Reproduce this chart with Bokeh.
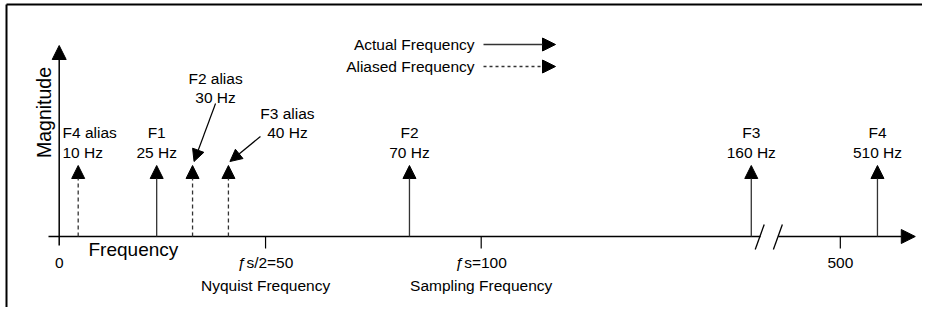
from bokeh.plotting import figure
from bokeh.models import Range1d, Arrow, NormalHead, ColumnDataSource
from bokeh.core.properties import value
from bokeh.embed import file_html
from bokeh.resources import INLINE
import math

# ---------------- data (diagram positions) -------------
signal_names = ["F1", "F2", "F3", "F4"]
signal_hz = [25, 70, 160, 510]
signal_pos = [23.1, 83.0, 164.0, 193.9]          # drawn position on the axis

alias_names = ["F4 alias", "F2 alias", "F3 alias"]
alias_hz = [10, 30, 40]
alias_pos = [4.5, 31.6, 40.1]

magnitude = 1.0

tick_pos = [0, 48.9, 100, 185.1]
tick_labels = ["0", "\u0192s/2=50", "\u0192s=100", "500"]
tick_names = ["", "Nyquist Frequency", "Sampling Frequency", ""]

break_pos = 168.2          # axis break (between 100 and 500)
legend_labels = ["Actual Frequency", "Aliased Frequency"]

# ---------------- figure ------------------------------------------------------
W, H = 922, 307
# axis units: 1 frequency unit = 4.22 px, 1 magnitude unit = 71 px
SX, SY = 4.22, 71.0
x_start = -58.7 / SX
y_start = -71.0 / SY
p = figure(width=W, height=H, output_backend="svg", toolbar_location=None,
           x_range=Range1d(x_start, x_start + W / SX),
           y_range=Range1d(y_start, y_start + H / SY),
           min_border=0, outline_line_color=None)
p.axis.visible = False
p.grid.visible = False
p.background_fill_color = "white"
p.border_fill_color = "white"

FONT = value("Liberation Sans")
LBL = "15.5px"
dx = 1.0 / SX
dy = 1.0 / SY

# frame border (top and left)
xe = p.x_range.end
top = 232 * dy
left = -52.7 * dx
p.line([left, xe], [top, top], line_color="black", line_width=2)
p.line([left, left], [y_start, top], line_color="black", line_width=2)

# horizontal axis with break
gap_l = break_pos - 2.0
gap_r = break_pos + 2.2
p.line([-10.7 * dx, gap_l], [0, 0], line_color="black", line_width=1.5)
p.add_layout(Arrow(end=NormalHead(size=14, fill_color="black", line_color="black"),
                   x_start=gap_r, y_start=0, x_end=gap_r + 137 * dx, y_end=0,
                   line_color="black", line_width=1.5))
for off in (-2.2, 2.1):
    c = break_pos + off
    p.line([c - 4.5 * dx, c + 4.5 * dx], [-13 * dy, 12 * dy], line_color="black", line_width=1.3)

# vertical axis
p.add_layout(Arrow(end=NormalHead(size=14, fill_color="black", line_color="black"),
                   x_start=0, y_start=-9 * dy, x_end=0, y_end=191 * dy,
                   line_color="black", line_width=1.5))

# ticks and labels
p.segment(x0=tick_pos[1:], y0=[0] * 3, x1=tick_pos[1:], y1=[-12 * dy] * 3,
          line_color="black", line_width=1.2)
p.text(x=tick_pos, y=[-26 * dy] * 4, text=tick_labels, text_align="center",
       text_baseline="middle", text_font=FONT, text_font_size=LBL, text_color="black")
p.text(x=tick_pos, y=[-49 * dy] * 4, text=tick_names, text_align="center",
       text_baseline="middle", text_font=FONT, text_font_size=LBL, text_color="black")

p.text(x=[29.3 * dx], y=[-13 * dy], text=["Frequency"], text_align="left",
       text_baseline="middle", text_font=FONT, text_font_size="19px")
p.text(x=[-15.7 * dx], y=[124 * dy], text=["Magnitude"], text_align="center",
       text_baseline="middle", angle=math.pi / 2, text_font=FONT, text_font_size="19.5px")

# spectral lines
head = lambda: NormalHead(size=13, fill_color="black", line_color="black")
sig_src = ColumnDataSource(dict(x=signal_pos, y0=[0] * 4, y1=[magnitude] * 4))
p.add_layout(Arrow(end=head(), x_start="x", y_start="y0", x_end="x", y_end="y1",
                   source=sig_src, line_color="#333333", line_width=1.3))
ali_src = ColumnDataSource(dict(x=alias_pos, y0=[0] * 3, y1=[magnitude] * 3))
p.add_layout(Arrow(end=head(), x_start="x", y_start="y0", x_end="x", y_end="y1",
                   source=ali_src, line_color="#333333", line_width=1.3, line_dash="4 3"))

# signal labels
row1 = magnitude + 33 * dy
row2 = magnitude + 13 * dy
p.text(x=signal_pos, y=[row1] * 4, text=signal_names, text_align="center",
       text_baseline="middle", text_font=FONT, text_font_size=LBL)
p.text(x=signal_pos, y=[row2] * 4, text=[f"{h} Hz" for h in signal_hz], text_align="center",
       text_baseline="middle", text_font=FONT, text_font_size=LBL)

# alias labels: F4 alias (left aligned), F2 alias / F3 alias with pointers
p.text(x=[alias_pos[0] - 15.7 * dx] * 2, y=[row1, row2],
       text=[alias_names[0], f"{alias_hz[0]} Hz"], text_align="left",
       text_baseline="middle", text_font=FONT, text_font_size=LBL)

lab_off_x = [0, 23 * dx, 59 * dx]
lab_row1 = [0, magnitude + 87 * dy, magnitude + 52 * dy]
for i in (1, 2):
    lx = alias_pos[i] + lab_off_x[i]
    p.text(x=[lx, lx], y=[lab_row1[i], lab_row1[i] - 19 * dy],
           text=[alias_names[i], f"{alias_hz[i]} Hz"], text_align="center",
           text_baseline="middle", text_font=FONT, text_font_size=LBL)

ptr_start = [(0, 0), (23 * dx, magnitude + 62 * dy), (32 * dx, magnitude + 29 * dy)]
for i in (1, 2):
    sx, sy = ptr_start[i]
    p.add_layout(Arrow(end=NormalHead(size=12, fill_color="black", line_color="black"),
                       x_start=alias_pos[i] + sx, y_start=sy,
                       x_end=alias_pos[i] + 1.5 * dx, y_end=magnitude + 4 * dy,
                       line_color="black", line_width=1.2))

# legend
leg_y = [magnitude + 121 * dy, magnitude + 99 * dy]
leg_x0 = 100 + 2.3 * dx
leg_x1 = leg_x0 + 72 * dx
p.text(x=[leg_x0 - 9 * dx] * 2, y=leg_y, text=legend_labels, text_align="right",
       text_baseline="middle", text_font=FONT, text_font_size=LBL)
p.add_layout(Arrow(end=head(), x_start=leg_x0, y_start=leg_y[0], x_end=leg_x1, y_end=leg_y[0],
                   line_color="#333333", line_width=1.3))
p.add_layout(Arrow(end=head(), x_start=leg_x0, y_start=leg_y[1], x_end=leg_x1, y_end=leg_y[1],
                   line_color="#333333", line_width=1.3, line_dash="3 3"))

open("out.html", "w").write(file_html(p, INLINE))
